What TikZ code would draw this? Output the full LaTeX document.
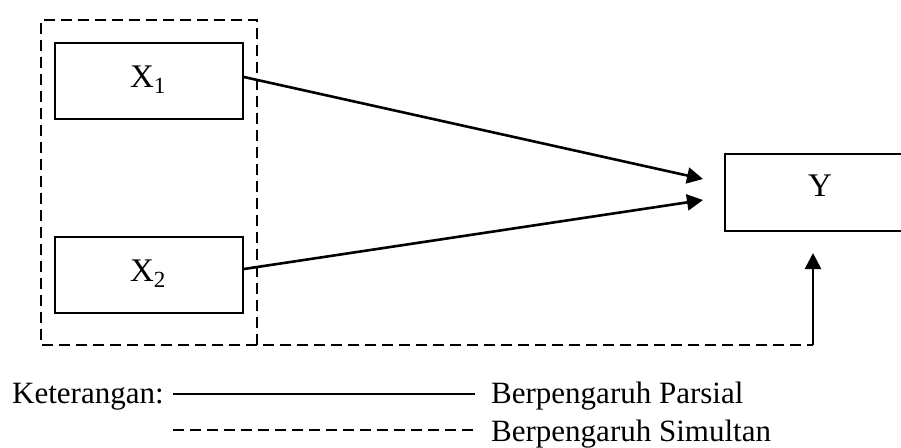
\documentclass[tikz,border=0pt]{standalone}
\usepackage{fontspec}
\setmainfont{Liberation Serif}
\usetikzlibrary{arrows.meta,calc}
\begin{document}
\begin{tikzpicture}[x=1pt,y=-1pt,
  box/.style={draw,line width=1.8pt,inner sep=0pt},
  lbl/.style={inner sep=0pt,anchor=base,font=\fontsize{33}{38}\selectfont},
  lgd/.style={inner sep=0pt,anchor=base west,font=\fontsize{31}{36}\selectfont},
  simul/.style={line width=2.2pt,dash pattern=on 11pt off 6pt},
  arr/.style={line width=2.6pt,-{Triangle[length=16pt,width=16pt]}},
  parsial/.style={line width=1.8pt}]
\clip (0,0) rectangle (901,447);
\fill[white] (0,0) rectangle (901,447);
% boxes
\node[box,minimum width=188pt,minimum height=76pt] (x1) at (149,81) {};
\node[box,minimum width=188pt,minimum height=76pt] (x2) at (149,275) {};
\node[box,minimum width=190pt,minimum height=77pt] (y) at (820,192.5) {};
\node[lbl] (tx1) at (148,87) {X\textsubscript{1}};
\node[lbl] (tx2) at (148,281) {X\textsubscript{2}};
\node[lbl] (ty) at (820,196) {Y};
% arrow ends
\coordinate (a1) at (703,179);
\coordinate (a2) at (703,200);
\coordinate (up) at (813,253);
\coordinate (corner) at (813,345);
\draw[arr] ($(x1.east)+(0,-4)$) -- (a1);
\draw[arr] ($(x2.east)+(0,-6)$) -- (a2);
% dashed group
\draw[simul] (257,345) -- (257,20) -- (41,20) -- (41,345) -- (corner);
\draw[arr] (corner) -- (up);
% legend
\node[lgd] (ket) at (12,403) {Keterangan:};
\node[lgd] (lp) at (491,403) {Berpengaruh Parsial};
\node[lgd] (ls) at (491,441) {Berpengaruh Simultan};
\coordinate (p1) at (173,394);
\coordinate (p2) at (475,394);
\coordinate (s1) at (173,430);
\coordinate (s2) at (475,430);
\draw[parsial] (p1) -- (p2);
\draw[simul] (s1) -- (s2);
\end{tikzpicture}
\end{document}
